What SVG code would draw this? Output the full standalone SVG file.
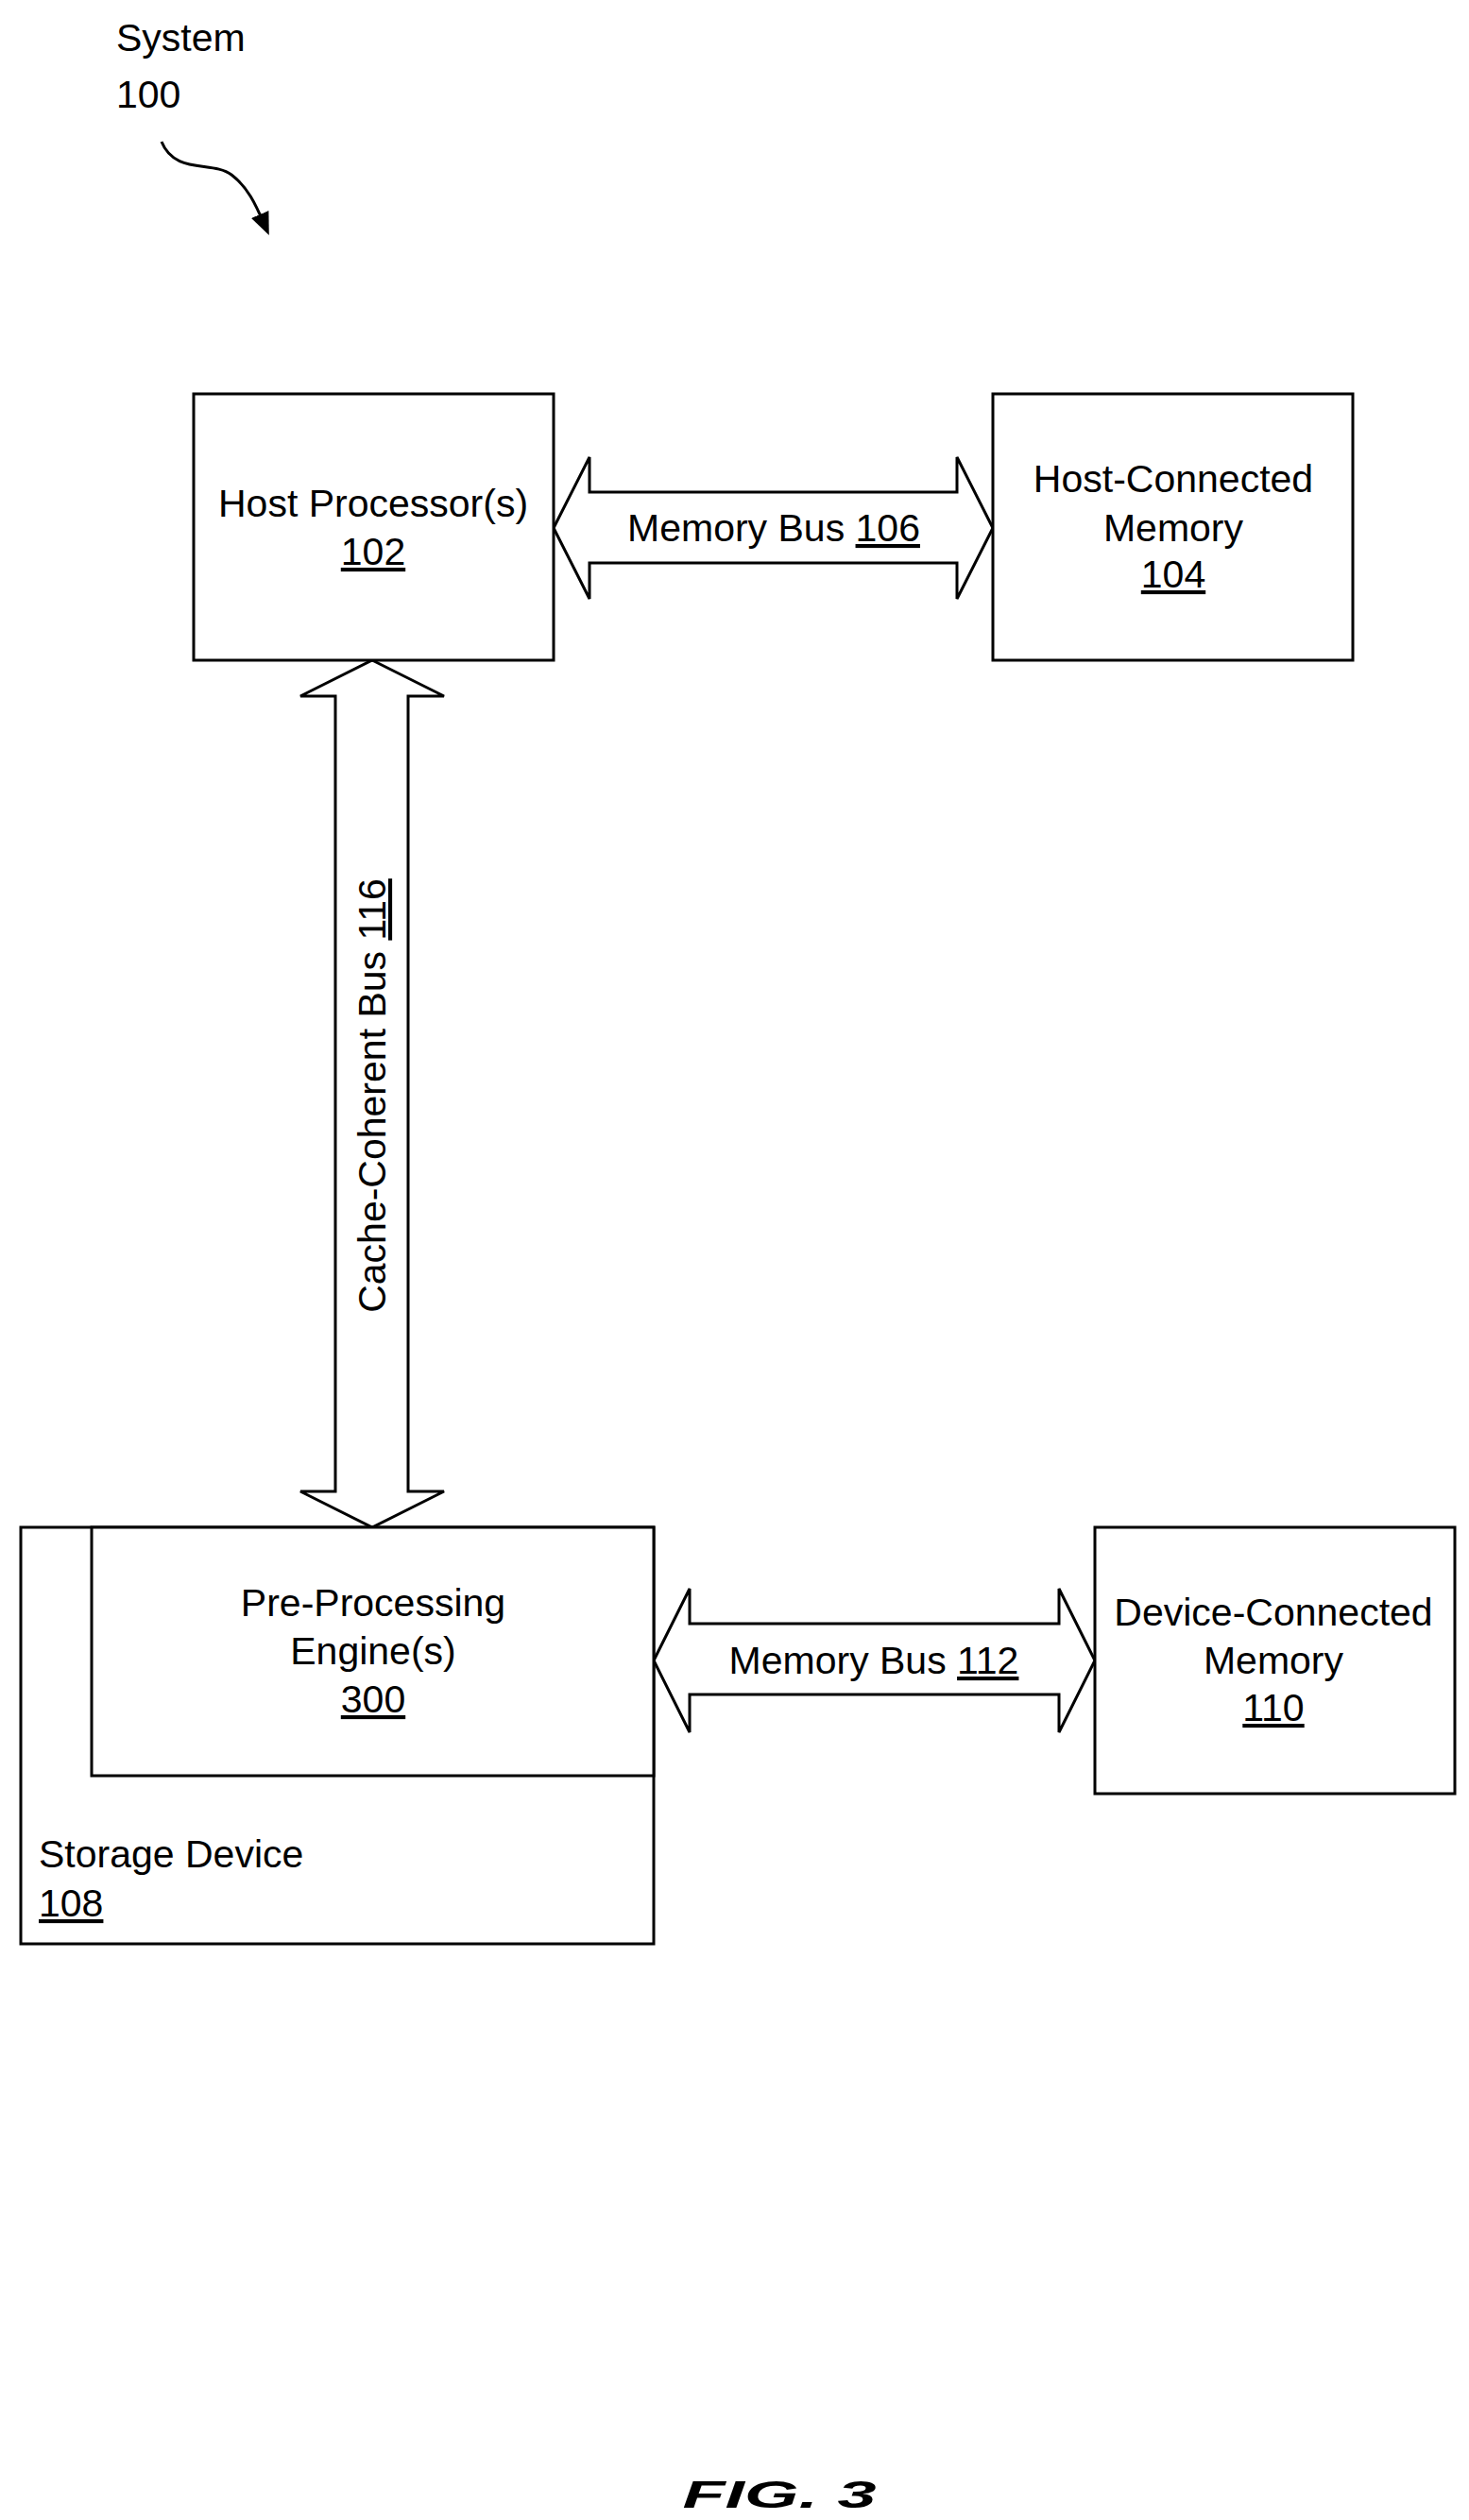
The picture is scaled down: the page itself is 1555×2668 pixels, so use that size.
<svg xmlns="http://www.w3.org/2000/svg" width="1555" height="2668" viewBox="0 0 1555 2668">
<style>
text{font-family:"Liberation Sans",Arial,sans-serif;font-size:41px;fill:#000}
.c{text-anchor:middle}
.u{text-decoration:underline}
.box{fill:#fff;stroke:#000;stroke-width:3}
</style>
<defs><marker id="ah" markerWidth="24" markerHeight="24" refX="12" refY="12" orient="auto" markerUnits="userSpaceOnUse"><path d="M0,2 L24,12 L0,22 Z" fill="#000"/></marker></defs>
<rect width="1555" height="2668" fill="#fff"/>
<g id="label100">
<text x="123" y="54" font-size="55">System</text>
<text x="123" y="114" font-size="55">100</text>
<path d="M171,150 C185,185 225,170 245,185 C262,198 270,215 280,238" fill="none" stroke="#000" stroke-width="3" marker-end="url(#ah)"/>
</g>
<g id="connectors">
<path class="box" d="M586,559 L624,484 L624,521 L1013,521 L1013,484 L1051,559 L1013,634 L1013,596 L624,596 L624,634 Z"/>
<text class="c" x="819" y="573">Memory Bus <tspan class="u">106</tspan></text>
<path class="box" d="M394,699 L470,737 L432,737 L432,1579 L470,1579 L394,1617 L318,1579 L355,1579 L355,737 L318,737 Z"/>
<text class="c" transform="translate(408,1160) rotate(-90)">Cache-Coherent Bus <tspan class="u">116</tspan></text>
<path class="box" d="M692,1758 L730,1682 L730,1719 L1121,1719 L1121,1682 L1159,1758 L1121,1834 L1121,1794 L730,1794 L730,1834 Z"/>
<text class="c" x="925" y="1772">Memory Bus <tspan class="u">112</tspan></text>
</g>
<g id="n102"><rect class="box" x="205" y="417" width="381" height="282"/>
<text class="c" x="395" y="547">Host Processor(s)</text><text class="c u" x="395" y="598">102</text></g>
<g id="n104"><rect class="box" x="1051" y="417" width="381" height="282"/>
<text class="c" x="1242" y="521">Host-Connected</text><text class="c" x="1242" y="573">Memory</text><text class="c u" x="1242" y="622">104</text></g>
<g id="n108"><rect class="box" x="22" y="1617" width="670" height="441"/>
<text x="41" y="1977">Storage Device</text><text class="u" x="41" y="2029">108</text></g>
<g id="n300"><rect class="box" x="97" y="1617" width="595" height="263"/>
<text class="c" x="395" y="1711">Pre-Processing</text><text class="c" x="395" y="1762">Engine(s)</text><text class="c u" x="395" y="1813">300</text></g>
<g id="n110"><rect class="box" x="1159" y="1617" width="381" height="282"/>
<text class="c" x="1348" y="1721">Device-Connected</text><text class="c" x="1348" y="1772">Memory</text><text class="c u" x="1348" y="1822">110</text></g>
<text class="c" x="825" y="2655" font-size="84" font-weight="bold" font-style="italic" textLength="205" lengthAdjust="spacingAndGlyphs">FIG. 3</text>
</svg>
